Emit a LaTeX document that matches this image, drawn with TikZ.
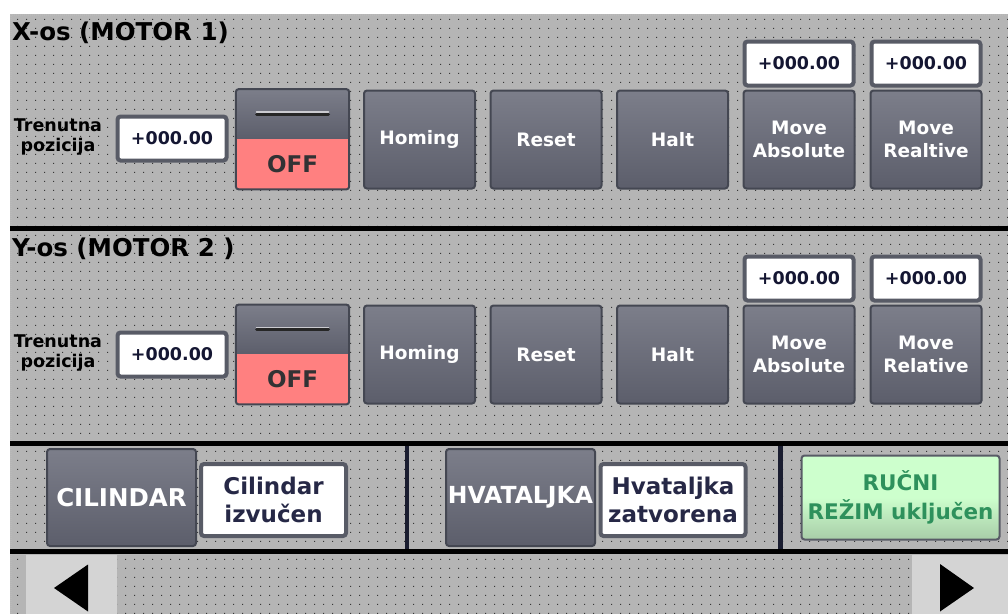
\documentclass[tikz,border=0pt]{standalone}
\usepackage{fontspec}
\setmainfont{DejaVu Sans}
\usetikzlibrary{patterns.meta}
\definecolor{panelgray}{RGB}{181,181,181}
\definecolor{dotgray}{RGB}{55,55,55}
\definecolor{btntop}{RGB}{124,126,138}
\definecolor{btnbot}{RGB}{92,94,107}
\definecolor{btnedge}{RGB}{68,71,82}
\definecolor{boxedge}{RGB}{88,91,102}
\definecolor{offred}{RGB}{255,128,128}
\definecolor{offtext}{RGB}{50,50,52}
\definecolor{navyline}{RGB}{26,29,48}
\definecolor{statustext}{RGB}{38,40,70}
\definecolor{valtext}{RGB}{20,22,50}
\definecolor{grntop}{RGB}{205,255,205}
\definecolor{grnbot}{RGB}{168,205,168}
\definecolor{grntext}{RGB}{46,145,92}
\definecolor{navgray}{RGB}{212,212,212}
\tikzdeclarepattern{name=hmidots, type=uncolored,
  bounding box={(0pt,0pt) and (8.8pt,8.8pt)}, tile size={(8.8pt,8.8pt)},
  code={\fill (0pt,0pt) rectangle (1.1pt,1.1pt);}}
\begin{document}
\begin{tikzpicture}[x=1pt,y=-1pt]
\tikzstyle{button} = [rectangle, rounded corners=3pt, draw=btnedge, line width=2pt, top color=btntop, bottom color=btnbot, text=white, font=\bfseries\fontsize{18.5}{22.5}\selectfont, align=center, minimum width=111, minimum height=98, inner sep=0]
\tikzstyle{bigbutton} = [button, font=\bfseries\fontsize{24.5}{26}\selectfont, minimum width=149, minimum height=97]
\tikzstyle{valbox} = [rectangle, rounded corners=3pt, draw=boxedge, line width=4pt, fill=white, text=valtext, font=\bfseries\fontsize{17.5}{20}\selectfont, minimum width=109, minimum height=44, inner sep=0]
\tikzstyle{statbox} = [valbox, text=statustext, font=\bfseries\fontsize{23}{28}\selectfont, align=center, minimum width=145, minimum height=72]
\tikzstyle{swtop} = [rectangle, top color=btntop, bottom color=btnbot, minimum width=113, minimum height=49.5, inner sep=0]
\tikzstyle{swoff} = [rectangle, fill=offred, text=offtext, font=\bfseries\fontsize{23}{24}\selectfont, minimum width=113, minimum height=50.5, inner sep=0]
\tikzstyle{frame} = [draw=btnedge, line width=2pt, rounded corners=3pt]
\tikzstyle{slot} = [line width=3pt, line cap=round, black!85]
\tikzstyle{title} = [font=\bfseries\fontsize{24.5}{26}\selectfont, inner sep=0, anchor=base west]
\tikzstyle{poslabel} = [font=\bfseries\fontsize{17.5}{20}\selectfont, align=center, inner sep=0]
\tikzstyle{manual} = [rectangle, rounded corners=3pt, draw=boxedge, line width=2pt, top color=grntop, bottom color=grnbot, middle color=grntop, text=grntext, font=\bfseries\fontsize{21.5}{29}\selectfont, align=center, minimum width=198, minimum height=84, inner sep=0]
\tikzstyle{navbtn} = [rectangle, fill=navgray, inner sep=0]
\tikzstyle{hatch} = [line width=2pt, dash pattern=on 1pt off 1pt, gray!55]
\useasboundingbox (0,0) rectangle (1008,614);
\fill[white] (0,0) rectangle (1008,614);
\fill[panelgray] (10,14) rectangle (1008,614);
\fill[pattern=hmidots, pattern color=dotgray] (10,14) rectangle (1008,614);
\draw[hatch] (10,15) -- (1008,15);
\draw[hatch] (11,14) -- (11,614);
\draw[line width=5pt] (10,228) -- (1008,228);
\draw[line width=5pt] (10,443.5) -- (1008,443.5);
\draw[line width=5pt] (10,551) -- (1008,551);
\draw[navyline, line width=4.5pt] (407,446) -- (407,549);
\draw[navyline, line width=4.5pt] (780.5,446) -- (780.5,549);
\node[title] at (12,40) (xtitle){X-os (MOTOR 1)};
\node[poslabel] at (58,137) (poslbl1){Trenutna\\pozicija};
\node[valbox] at (172,138.5) (pos1){+000.00};
\node[swtop] at (292.5,114) (sw1){};
\node[swoff] at (292.5,164) (off1){OFF};
\draw[frame] (sw1.north west) rectangle (off1.south east);
\draw[white!60!btntop, line width=1.5pt, line cap=round] ([xshift=-36,yshift=2]sw1.center) -- ([xshift=36,yshift=2]sw1.center);
\draw[slot] ([xshift=-36]sw1.center) -- ([xshift=36]sw1.center);
\node[button] at (419.5,139.5) (homing1){Homing};
\node[button] at (546,139.5) (reset1){Reset};
\node[button] at (672.5,139.5) (halt1){Halt};
\node[button] at (799,139.5) (moveabs1){Move\\Absolute};
\node[button] at (926,139.5) (moverel1){Move\\Realtive};
\node[valbox] at (799,63.5) (absval1){+000.00};
\node[valbox] at (926,63.5) (relval1){+000.00};
\node[title] at (12,256) (ytitle){Y-os (MOTOR 2 )};
\node[poslabel] at (58,353) (poslbl2){Trenutna\\pozicija};
\node[valbox] at (172,354.5) (pos2){+000.00};
\node[swtop] at (292.5,329.5) (sw2){};
\node[swoff] at (292.5,379) (off2){OFF};
\draw[frame] (sw2.north west) rectangle (off2.south east);
\draw[white!60!btntop, line width=1.5pt, line cap=round] ([xshift=-36,yshift=2]sw2.center) -- ([xshift=36,yshift=2]sw2.center);
\draw[slot] ([xshift=-36]sw2.center) -- ([xshift=36]sw2.center);
\node[button] at (419.5,354.5) (homing2){Homing};
\node[button] at (546,354.5) (reset2){Reset};
\node[button] at (672.5,354.5) (halt2){Halt};
\node[button] at (799,354.5) (moveabs2){Move\\Absolute};
\node[button] at (926,354.5) (moverel2){Move\\Relative};
\node[valbox] at (799,278.5) (absval2){+000.00};
\node[valbox] at (926,278.5) (relval2){+000.00};
\node[bigbutton] at (121.5,497.5) (cyl){CILINDAR};
\node[statbox] at (273.5,500) (cylstate){Cilindar\\izvučen};
\node[bigbutton, font=\bfseries\fontsize{23.5}{26}\selectfont] at (520.5,497.5) (grip){HVATALJKA};
\node[statbox] at (673,500) (gripstate){Hvataljka\\zatvorena};
\node[manual] at (900.5,497.5) (manual){RUČNI\\REŽIM uključen};
\node[navbtn, minimum width=91, minimum height=59] at (71.5,584.5) (prev){};
\node[navbtn, minimum width=96, minimum height=59] at (960,584.5) (next){};
\fill[black] ([shift={(-17.5,3.5)}]prev.center) -- ([shift={(16.5,-20)}]prev.center) -- ([shift={(16.5,27)}]prev.center) -- cycle;
\fill[black] ([shift={(14,3.5)}]next.center) -- ([shift={(-20,-20.5)}]next.center) -- ([shift={(-20,27)}]next.center) -- cycle;
\end{tikzpicture}
\end{document}
